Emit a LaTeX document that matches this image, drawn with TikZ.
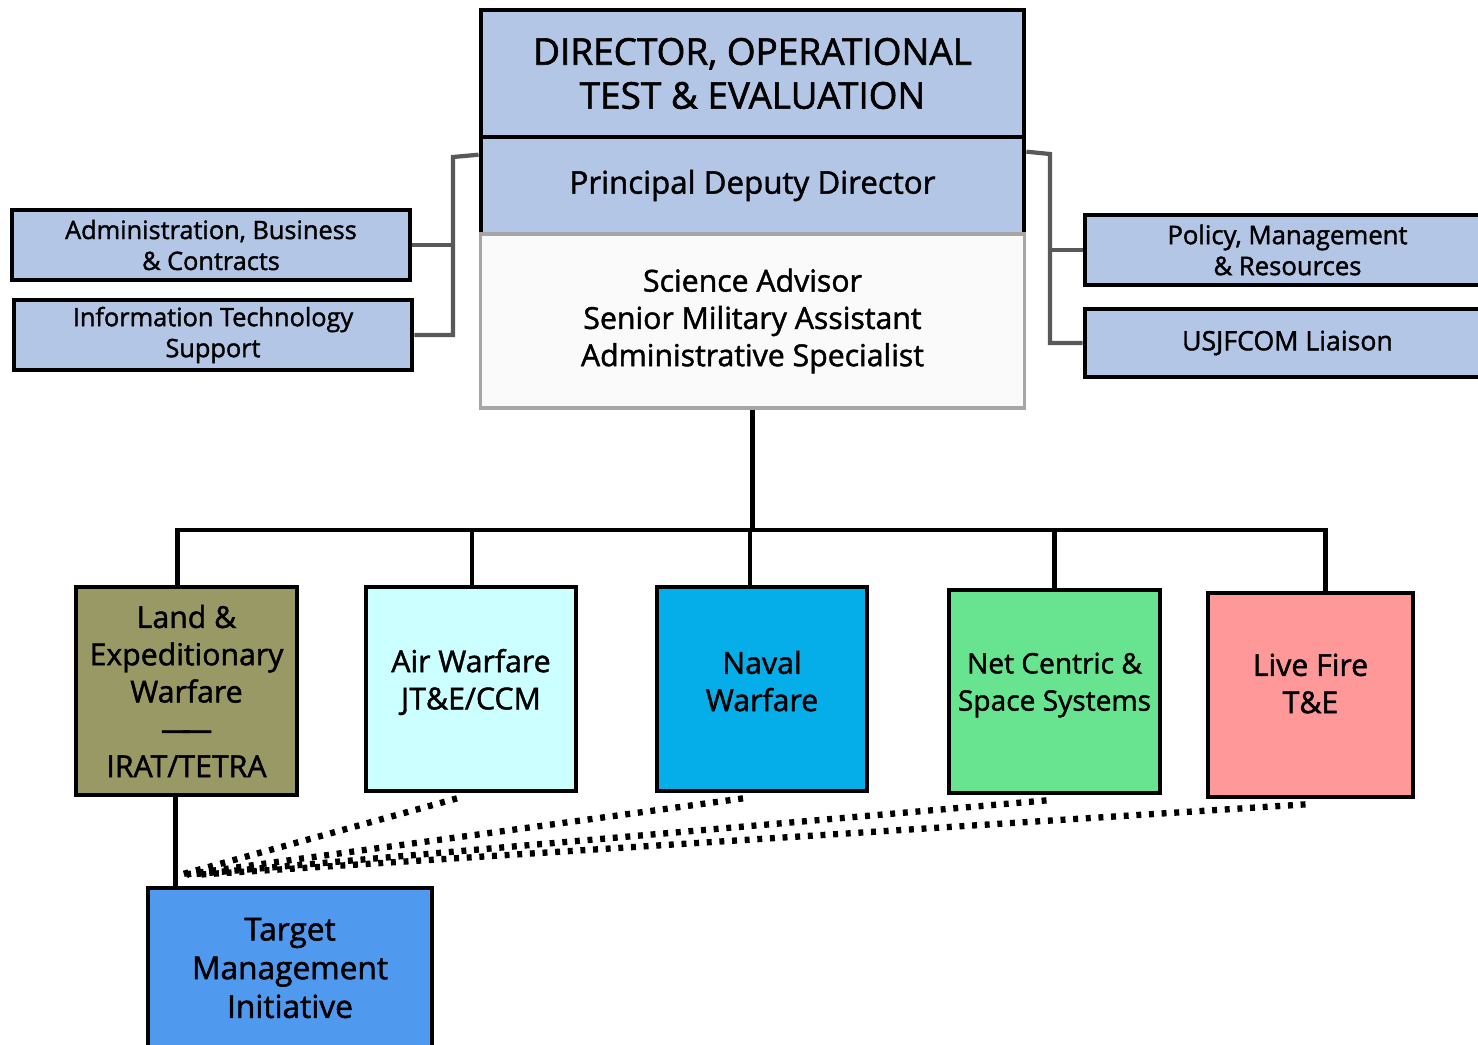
\documentclass[tikz,border=0pt]{standalone}
\usepackage{fontspec}
\setmainfont{Open Sans}[FakeBold=1.5]
\usetikzlibrary{calc}
\definecolor{officeblue}{RGB}{179,198,229}
\definecolor{olivebox}{RGB}{153,153,102}
\definecolor{airbox}{RGB}{204,255,255}
\definecolor{navalbox}{RGB}{5,174,232}
\definecolor{netbox}{RGB}{104,228,144}
\definecolor{livebox}{RGB}{255,153,153}
\definecolor{targetbox}{RGB}{79,154,239}
\tikzstyle{block} = [draw,rectangle,line width=1.3pt,fill=officeblue,inner sep=0pt,align=center]
\tikzstyle{staffblock} = [draw=black!35,rectangle,line width=0.9pt,fill=black!2,inner sep=0pt,align=center]
\tikzstyle{division} = [draw,rectangle,line width=1.3pt,inner sep=0pt,align=center,
                        font=\fontsize{8.6}{10.6}\selectfont]
\tikzstyle{line} = [line width=1.3pt]
\tikzstyle{gline} = [line width=1.2pt,draw=black!65]
\tikzstyle{dotline} = [line width=1.8pt,dash pattern=on 1.4pt off 2.2pt]

\begin{document}
\begin{tikzpicture}[x=0.01cm,y=-0.01cm]
    \useasboundingbox (0,0) rectangle (1478,1044);
    % front office
    \node[block,minimum width=5.43cm,minimum height=1.27cm,
          font=\fontsize{10.5}{12.5}\selectfont] (director) at (752.5,73.5)
          {DIRECTOR, OPERATIONAL\\TEST \& EVALUATION};
    \node[block,minimum width=5.43cm,minimum height=0.97cm,
          font=\fontsize{8.9}{10.6}\selectfont] (pdd) at (752.5,185.5)
          {Principal Deputy Director};
    \node[staffblock,minimum width=5.43cm,minimum height=1.74cm,
          font=\fontsize{8.6}{10.6}\selectfont] (staff) at (752.5,321)
          {Science Advisor\\Senior Military Assistant\\Administrative Specialist};
    % support offices
    \node[block,minimum width=3.98cm,minimum height=0.7cm,
          font=\fontsize{7.2}{8.8}\selectfont] (admin) at (211,245)
          {Administration, Business\\\& Contracts};
    \node[block,minimum width=3.98cm,minimum height=0.7cm,
          font=\fontsize{7.2}{8.8}\selectfont] (itsup) at (213,335)
          {Information Technology\\Support};
    \node[block,minimum width=4.05cm,minimum height=0.7cm,
          font=\fontsize{7.3}{8.8}\selectfont] (policy) at (1287.5,250)
          {Policy, Management\\\& Resources};
    \node[block,minimum width=4.05cm,minimum height=0.68cm,
          font=\fontsize{7.6}{8.8}\selectfont] (liaison) at (1287.5,343)
          {USJFCOM Liaison};
    % divisions
    \node[division,fill=olivebox,minimum width=2.21cm,minimum height=2.08cm] (land) at (186.5,691)
          {Land \&\\Expeditionary\\Warfare\\—\kern-0.3em—\\IRAT/TETRA};
    \node[division,fill=airbox,minimum width=2.1cm,minimum height=2.04cm] (air) at (471,689)
          {Air Warfare\\JT\&E/CCM\\[-5pt]};
    \node[division,fill=navalbox,minimum width=2.1cm,minimum height=2.04cm] (naval) at (762,689)
          {Naval\\Warfare\\[-6pt]};
    \node[division,fill=netbox,minimum width=2.11cm,minimum height=2.03cm,
          font=\fontsize{8}{10.6}\selectfont] (net) at (1054.5,691.5)
          {Net Centric \&\\Space Systems\\[-5pt]};
    \node[division,fill=livebox,minimum width=2.05cm,minimum height=2.04cm] (live) at (1310.5,695)
          {Live Fire\\T\&E\\[-4pt]};
    \node[division,fill=targetbox,minimum width=2.84cm,minimum height=1.6cm,
          font=\fontsize{9}{11}\selectfont] (target) at (290,968)
          {Target\\Management\\Initiative};
    % now link the nodes
    \coordinate (lbus) at (453,157);
    \coordinate (rbus) at (1050,154);
    \coordinate (bus) at (752.5,530);
    \coordinate (ldrop) at ($(land.south)+(-11,0)$);
    \draw [gline] ($(pdd.north west)+(0,20)$) -- (lbus) |- (itsup.east);
    \draw [gline] (admin.east) -| (lbus);
    \draw [gline] ($(pdd.north east)+(0,17)$) -- (rbus) |- (liaison.west);
    \draw [gline] (policy.west) -| (rbus);
    \draw [line] (staff.south) -- (bus);
    \foreach \d/\o in {land/-9,air/1,naval/-12,net/0,live/15}
      \draw [line] ($(\d.north)+(\o,0)$) |- (bus);
    \draw [line] (ldrop) -- (ldrop |- target.north);
    \foreach \d/\o/\e in {air/-14/35,naval/-19/38,net/-8/42,live/-5/52}
      \draw [dotline] ($(\d.south)+(\o,5)$) -- ($(target.north west)+(\e,-11)$);
\end{tikzpicture}
\end{document}
